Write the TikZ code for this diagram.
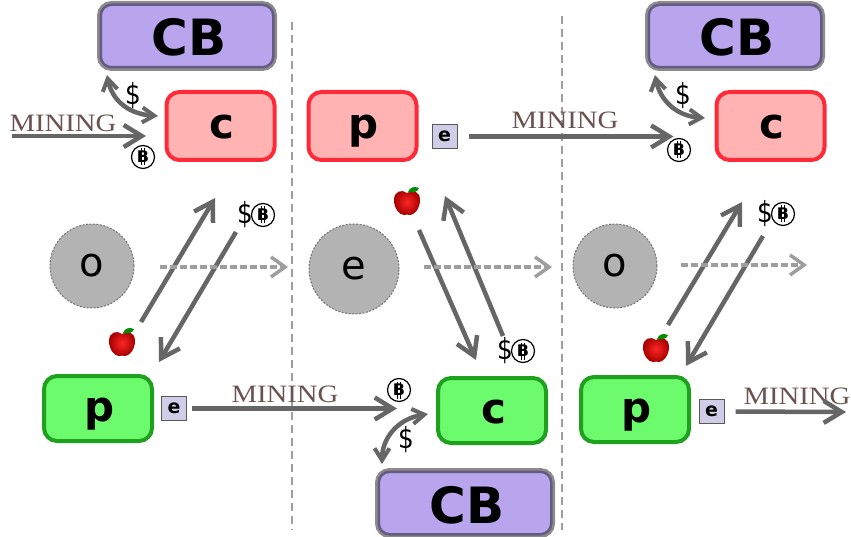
\documentclass[tikz,border=0pt]{standalone}
\usepackage{fontspec}
\setmainfont{DejaVu Sans}
\newfontfamily\miningfont{Liberation Serif}
\usetikzlibrary{arrows.meta,shadings}

\definecolor{cbfill}{HTML}{B8A5ED}
\definecolor{redfill}{HTML}{FFB3B3}
\definecolor{redline}{HTML}{FF2A38}
\definecolor{greenfill}{HTML}{6CFB6C}
\definecolor{greenline}{HTML}{1FA01F}
\definecolor{efill}{HTML}{CFCDE8}
\definecolor{orefill}{HTML}{B3B3B3}
\definecolor{flowgray}{HTML}{666666}
\definecolor{miningcol}{HTML}{6B5252}

\tikzset{
  cbbox/.style={draw=black,draw opacity=.45,fill=cbfill,line width=5pt,rounded corners=12pt,
    minimum width=175pt,minimum height=65pt,text height=40pt,text depth=0pt,
    execute at begin node={\hspace*{4pt}},
    font=\fontsize{50}{50}\selectfont\bfseries},
  tradebox/.style={line width=4pt,rounded corners=13pt,minimum width=108pt,minimum height=68pt,
    text height=30pt,text depth=4pt,execute at begin node={\hspace*{3pt}},
    font=\fontsize{42}{42}\selectfont\bfseries},
  redbox/.style={tradebox,draw=redline,fill=redfill},
  greenbox/.style={tradebox,draw=greenline,fill=greenfill,minimum height=65pt},
  ebox/.style={draw=black!65,fill=efill,line width=1pt,minimum width=25pt,minimum height=24pt,
    inner sep=0pt,font=\fontsize{19}{19}\selectfont\bfseries},
  orebox/.style={circle,draw=black!55,dash pattern=on 2pt off 1.5pt,fill=orefill,line width=1pt,inner sep=0pt,
    font=\fontsize{40}{40}\selectfont},
  mininglabel/.style={text=miningcol,inner sep=0pt,xscale=1.15,font=\miningfont\fontsize{25}{25}\selectfont},
  dollar/.style={inner sep=0pt,xscale=.85,font=\fontsize{29}{29}\selectfont},
  btc/.style={circle,draw=black,line width=1.2pt,minimum size=23pt,inner sep=0pt,
    font=\fontsize{16}{16}\selectfont\bfseries,
    path picture={
      \draw[line width=.8pt] ([shift={(-1.5pt,-8.5pt)}]path picture bounding box.center) -- ++(0,17pt)
        ([shift={(1.5pt,-8.5pt)}]path picture bounding box.center) -- ++(0,17pt);
    }},
  flow/.style={draw=flowgray,line width=4.5pt,-{Straight Barb[length=18pt,width=22pt,line width=4.5pt]}},
  swap/.style={draw=flowgray,line width=4.5pt,
    {Straight Barb[length=12pt,width=15pt,line width=4pt]}-{Straight Barb[length=12pt,width=15pt,line width=4pt]}},
  drift/.style={draw=black!38,line width=4pt,dash pattern=on 7pt off 3pt,
    -{Straight Barb[length=14pt,width=20pt,line width=3.5pt]}},
  border/.style={draw=black!38,line width=2.5pt,dash pattern=on 8pt off 5pt},
  apple/.pic={
    \path[inner color=red!85!white,outer color=red!65!black]
      (0,-9) .. controls (5,-13) and (13,-11) .. (13,-2) .. controls (13,7) and (7,13) .. (3,13)
      .. controls (1,13) and (-1,12) .. (-3,13) .. controls (-8,13) and (-13,6) .. (-13,-2)
      .. controls (-13,-11) and (-5,-13) .. (0,-9) -- cycle;
    \fill[green!55!black] (1,-10) .. controls (3,-15) and (7,-16) .. (12,-14)
      .. controls (11,-10) and (6,-9) .. (1,-10) -- cycle;
  }
}

\begin{document}
\begin{tikzpicture}
  [x=1pt,y=-1pt]
  \useasboundingbox (0,0) rectangle (851,537);

  \draw[border] (292,22) coordinate (borderAtop) -- (292,530) coordinate (borderAbot);
  \draw[border] (562,16) coordinate (borderBtop) -- (562,530) coordinate (borderBbot);

  \node[cbbox] (cbA) at (187,36) {CB};
  \node[cbbox] (cbB) at (735,36) {CB};
  \node[cbbox] (cbC) at (465,503) {CB};

  \node[redbox] (cA) at (220.5,126) {c};
  \node[redbox] (pA) at (362.5,126) {p};
  \node[redbox] (cB) at (770.5,126) {c};
  \node[ebox] (eA) at (444.5,136.5) {e};

  \node[greenbox] (pB) at (98,408.5) {p};
  \node[greenbox] (cC) at (492,410.5) {c};
  \node[greenbox] (pC) at (635,409.5) {p};
  \node[ebox] (eB) at (174,408.5) {e};
  \node[ebox] (eC) at (711.5,411.5) {e};

  \node[orebox,minimum size=84pt] (oA) at (92,266) {o};
  \node[orebox,minimum size=90pt] (oB) at (354,269) {e};
  \node[orebox,minimum size=84pt] (oC) at (615,266) {o};

  \node[mininglabel] (miningA) at (63,123) {MINING};
  \node[mininglabel] (miningB) at (565,120) {MINING};
  \node[mininglabel] (miningC) at (285,394) {MINING};
  \node[mininglabel] (miningD) at (797,396) {MINING};

  \coordinate (startA) at (12,136);
  \coordinate (endA) at (146,136);
  \coordinate (endD) at (846,412);
  \draw[flow] (startA) -- (endA);
  \draw[flow,shorten <=11pt,shorten >=41pt] (eA.east) -- (eA.east -| cB.west);
  \draw[flow,shorten <=5pt,shorten >=39pt] (eB.east) -- (eB.east -| cC.west);
  \draw[flow,shorten <=11pt] (eC.east) -- (endD);

  \coordinate (diagAa) at (141,322);
  \coordinate (diagAb) at (215,198);
  \coordinate (diagBa) at (236,232);
  \coordinate (diagBb) at (159,362);
  \coordinate (diagCa) at (419,230);
  \coordinate (diagCb) at (476,360);
  \coordinate (diagDa) at (503,336);
  \coordinate (diagDb) at (445,196);
  \coordinate (diagEa) at (668,325);
  \coordinate (diagEb) at (742,202);
  \coordinate (diagFa) at (763,236);
  \coordinate (diagFb) at (686,366);
  \draw[flow] (diagAa) -- (diagAb);
  \draw[flow] (diagBa) -- (diagBb);
  \draw[flow] (diagCa) -- (diagCb);
  \draw[flow] (diagDa) -- (diagDb);
  \draw[flow] (diagEa) -- (diagEb);
  \draw[flow] (diagFa) -- (diagFb);

  \coordinate (swapAa) at (107,75);
  \coordinate (swapAb) at (158,116);
  \coordinate (swapBa) at (655,75);
  \coordinate (swapBb) at (705,118);
  \coordinate (swapCa) at (382,464);
  \coordinate (swapCb) at (428,414);
  \draw[swap] (swapAa) .. controls (112,100) and (128,114) .. (swapAb);
  \draw[swap] (swapBa) .. controls (660,100) and (676,116) .. (swapBb);
  \draw[swap] (swapCa) .. controls (382,440) and (396,419) .. (swapCb);

  \coordinate (driftA) at (288,267);
  \coordinate (driftB) at (552,267);
  \coordinate (driftC) at (807,265);
  \draw[drift,shorten <=25pt] (oA.east |- driftA) -- (driftA);
  \draw[drift,shorten <=24pt] (oB.east |- driftB) -- (driftB);
  \draw[drift,shorten <=23pt] (oC.east |- driftC) -- (driftC);

  \node[dollar] (usdA) at (133,96) {\$};
  \node[dollar] (usdB) at (683,96) {\$};
  \node[dollar] (usdC) at (406,440) {\$};
  \node[dollar] (usdD) at (245,215) {\$};
  \node[dollar] (usdE) at (505,351) {\$};
  \node[dollar] (usdF) at (765,214) {\$};

  \node[btc] (btcA) at (143,157) {B};
  \node[btc] (btcB) at (679,150) {B};
  \node[btc] (btcC) at (399,390) {B};
  \node[btc] (btcD) at (263,215) {B};
  \node[btc] (btcE) at (523,351) {B};
  \node[btc] (btcF) at (783,214) {B};

  \pic (appleA) at (122,343) {apple};
  \pic (appleB) at (407,202) {apple};
  \pic (appleC) at (656,349) {apple};
\end{tikzpicture}
\end{document}
